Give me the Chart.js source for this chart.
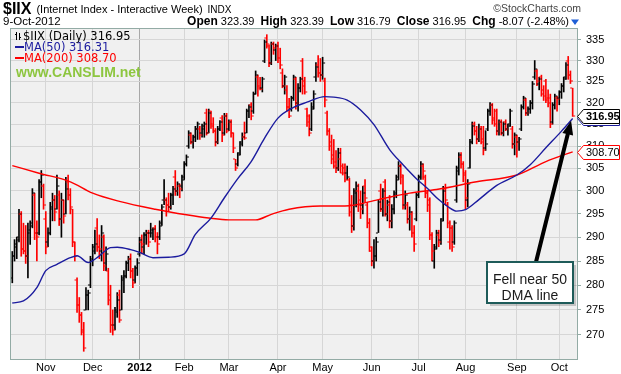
<!DOCTYPE html>
<html>
<head>
<meta charset="utf-8">
<script src="https://cdn.jsdelivr.net/npm/chart.js@4.4.1/dist/chart.umd.min.js"></script>
<style>
  html, body { margin: 0; padding: 0; background: #fff; }
</style>
</head>
<body>
<canvas id="chart" width="621" height="374"></canvas>
<script>
// daily bars, 11-Oct-2011 .. 9-Oct-2012 (index = trading day)
const opens = [
  281.5, 286, 288, 290, 295, 287.5, 287, 286, 291, 293,
  299, 291, 291, 302, 301, 294, 289, 291, 296, 298,
  296, 299, 294, 298, 295, 302, 299, 296, 289, 281,
  276, 274, 271, 275, 278, 280, 285, 288, 292, 288,
  287, 290, 284.5, 283, 278, 272, 272, 275, 278, 275,
  281, 282, 284.5, 285.5, 283, 281, 283.5, 286.5, 289, 288,
  290.5, 291, 291, 291, 292, 290, 290, 293, 298, 298,
  297, 296.5, 299, 303, 300, 301, 301, 303, 306, 310,
  312.5, 311, 312, 314, 314, 313, 314, 317.5, 313, 318,
  315, 313.5, 311, 314, 316.5, 313, 317, 314, 315.5, 313,
  307, 306, 308.5, 311, 312, 313, 318, 319.5, 318, 322,
  326, 324, 323.5, 330, 335.5, 333.5, 329.5, 334, 332.5, 333.5,
  330.5, 327, 324, 323, 319, 318.5, 321, 325.5, 320, 323.5,
  330, 325, 318.5, 317, 314, 319, 326, 329, 327, 326.5,
  325, 317.5, 313.5, 311, 308, 305.5, 305, 307, 304, 305,
  304, 302.5, 297, 292.5, 300, 300, 298, 297, 301, 297,
  293, 287, 285, 286, 291, 300, 296, 302, 295, 297,
  293.5, 296, 299, 303, 305.5, 303, 297, 297, 294, 295,
  291, 294, 299, 303, 305.5, 303, 299.5, 298, 290.5, 285,
  288, 290.5, 289.5, 294, 300.5, 297, 289, 292, 289, 298,
  305, 307.5, 306, 304, 298, 305, 311, 315, 313.5, 311.5,
  314, 311, 309.5, 314, 318, 319.5, 316.5, 318, 313.5, 315.5,
  313, 315.5, 314, 315, 314, 310.5, 312, 311, 314, 319,
  320.5, 317.5, 318.5, 320, 326, 327.5, 324.5, 326, 322, 325,
  320.5, 321, 315.5, 319.5, 321, 321, 322.5, 324, 326, 330,
  326.5, 323.39
];
const highs = [
  287, 289.5, 290, 296, 295.5, 293, 292.5, 293, 293.5, 300.5,
  299.5, 293.5, 302.5, 304.5, 301.5, 295.5, 292, 297.5, 299.5, 299,
  303.5, 300, 299.5, 298, 303, 303.5, 300.5, 296, 289, 281.5,
  277.5, 274.5, 272.5, 279.5, 279, 286, 288.5, 291.5, 294, 290.5,
  292.5, 290.5, 288, 283.5, 280, 275, 275.5, 278.5, 279, 282,
  283, 285, 286, 286.5, 283.5, 284, 285.5, 290, 290.5, 291,
  291.5, 291.5, 293, 292, 292.5, 291, 293.5, 297, 302.5, 298.5,
  299.5, 299.5, 301, 304.5, 302, 301.5, 303.5, 306.5, 308, 313.5,
  313, 312.5, 314.5, 315.5, 314.5, 315, 315.5, 318.5, 318.5, 318,
  316.5, 314, 314.5, 315.8, 317, 317.5, 317.5, 316, 316, 313,
  307, 308.5, 311, 313, 315.5, 318.5, 319.5, 320, 322.5, 327.5,
  326.5, 326, 326, 335, 336.3, 333.8, 334.5, 334.5, 334, 334.5,
  333, 328, 326.5, 324, 321, 321.5, 326.5, 326, 324.5, 326,
  330.5, 326, 318.7, 317.2, 320, 322.8, 329.5, 331.2, 330.5, 330.8,
  325.8, 318, 314, 312.5, 311.5, 309, 309.5, 309.5, 306, 306,
  305.5, 302.8, 299, 300.5, 302, 301.5, 300, 301, 302.5, 297.5,
  294, 288, 289.5, 290, 298, 301.5, 300.5, 302.5, 298, 299,
  297, 300, 303.5, 306.5, 306, 303.5, 300, 297.5, 296.5, 295.5,
  292.5, 299.5, 303.5, 306.5, 306, 303.5, 300, 298.5, 291, 288.5,
  291.5, 291.5, 294, 301, 301.5, 297.5, 293.5, 292.5, 293.5, 305.5,
  308.5, 308.5, 306.5, 304.5, 302.5, 311.5, 315.5, 315.5, 314.5, 315,
  314.5, 314.5, 313.5, 318.5, 320, 319.8, 318.5, 318.5, 316, 316,
  315.5, 316, 315, 318.5, 314.5, 313, 312.5, 312, 319.5, 321.5,
  321, 319, 320.5, 325, 330, 327.8, 326, 326.5, 324, 325.5,
  323, 322, 320, 322, 321.5, 322.8, 324.5, 326, 329.5, 331,
  327.5, 323.39
];
const lows = [
  280.5, 285, 285.5, 289, 286, 286.5, 284.5, 281.5, 288.5, 292,
  289.5, 285, 290.5, 298.5, 296, 286.5, 288, 290.5, 293.5, 293.5,
  296, 292.5, 290, 293, 295, 298, 295, 288, 285, 274.5,
  272.5, 270, 266.8, 275, 275, 279.5, 284, 286.5, 287, 285.5,
  285, 283, 283, 276, 270.5, 270, 271, 273.5, 272.5, 275,
  278.5, 281.5, 283, 281.5, 279.5, 280.5, 282, 286, 286.5, 286.5,
  288.5, 288, 290, 289.5, 289, 286.5, 289.5, 292.5, 297, 294.5,
  295.5, 296, 297, 299, 299, 298.5, 300, 302.5, 305.5, 309.5,
  310.5, 309.5, 311, 311.5, 311.5, 312, 312, 312.5, 313, 314,
  313, 310, 310.5, 313.5, 311, 312.5, 313, 313.5, 312, 308.5,
  304.5, 305.5, 308, 310, 311.5, 313, 316.5, 316, 317.5, 322,
  321.5, 323, 322.5, 329.5, 333, 328.5, 329, 331.5, 330, 329.5,
  328, 323.5, 322, 318, 316.5, 318, 320.5, 318.5, 318, 322.5,
  322, 322, 314.5, 312.3, 313.5, 318.5, 325, 326, 325, 325.5,
  319, 312.5, 309, 306, 305, 304, 304.5, 304, 303.5, 302,
  302.5, 294.5, 291, 291.5, 296.5, 295.5, 294, 295, 297.5, 292,
  287, 284, 283.5, 285, 291, 295.5, 294.5, 294.5, 293.5, 292,
  292, 295, 298.5, 302.5, 301.5, 296, 296, 293, 291.5, 290,
  287, 293.5, 298.5, 302.5, 302.5, 298.5, 295.5, 289.5, 285, 283.5,
  287.5, 288, 288.5, 293.5, 297, 292, 287.5, 287, 288.5, 297.5,
  303.5, 305, 302, 296, 296.5, 305, 310.5, 312.5, 310.5, 311,
  310.5, 308, 309, 313.5, 317, 315, 314.5, 312.5, 312.5, 312.5,
  312.3, 313.5, 312.5, 314.5, 309.5, 308, 307.5, 309, 313.5, 318.5,
  317, 317, 317.5, 318.5, 325.5, 324, 323, 321.5, 320.5, 320,
  319, 314.2, 315, 318.5, 318, 319.5, 321, 322.5, 325.5, 325.5,
  324.5, 316.79
];
const closes = [
  286, 288.5, 289.5, 295, 287.5, 287, 286, 291.5, 292.5, 299.5,
  291, 290, 302, 303.5, 297, 288, 291, 296.5, 298, 295.5,
  301, 294, 298, 294.5, 300.5, 299, 296.5, 289, 286, 276,
  274, 270.5, 267.5, 278, 278.5, 285.5, 287, 288.5, 288, 287.5,
  291, 284, 286.5, 277, 272, 271, 274.5, 277, 273, 281.5,
  282, 284.5, 285.5, 283, 280.5, 283.5, 284.5, 289.5, 288.5, 290.5,
  290.8, 289, 291.5, 291.8, 290, 288.5, 292.5, 296.5, 298, 297,
  296.5, 299, 300.5, 300, 301.5, 300.5, 302.5, 306, 307.5, 313,
  311, 312, 314, 315, 312.5, 314.5, 315, 313, 317.5, 314.5,
  313.5, 311, 314, 315.5, 312.5, 317, 313.5, 315.5, 313, 309.5,
  305, 308, 310.5, 312, 311.8, 318, 319, 317, 322, 326.5,
  323.5, 323.2, 325.5, 334.5, 334, 329.5, 334, 333, 333.5, 330.5,
  329, 324, 326, 319, 317, 321, 326, 320, 323.5, 325.5,
  324, 322.5, 315.5, 313, 318.5, 322, 328.5, 327, 326.5, 329.5,
  320.5, 313.5, 310, 307, 306.5, 305, 308.5, 305.5, 304, 302.5,
  303, 295.5, 292.5, 299.5, 301, 297, 296, 299.5, 298.5, 293,
  288, 285, 286, 289, 297.5, 296, 300, 295, 297.5, 293.5,
  296, 299.5, 302.5, 305.5, 303.5, 296.5, 299, 294, 295.5, 291,
  288.5, 299, 303, 306, 304.5, 299.5, 297, 290.5, 287, 287.5,
  291, 289, 293.5, 300, 298, 293, 292, 288, 293, 304.5,
  308, 306, 303.5, 298.5, 301.5, 311, 314.5, 313.5, 311.5, 314,
  311.5, 309, 310.5, 318, 319.5, 316, 315, 313.5, 315.5, 313,
  315, 314, 314.5, 318, 310.5, 312.5, 311, 311.5, 319, 321,
  317.5, 318.5, 320, 324.5, 328, 325, 325.5, 323, 321.5, 321,
  320, 315, 319.5, 321.5, 320.8, 322.5, 324, 325.5, 329, 326.5,
  325.02, 316.95
];

// moving averages at these trading-day indexes
const ma50Idx = [0, 5, 11, 15, 20, 26, 29, 34, 38, 44, 47, 53, 57, 63, 70, 77, 82, 89, 95, 101, 107, 113, 119, 126, 132, 140, 144, 150, 156, 162, 169, 175, 181, 186, 191, 195, 199, 203, 209, 217, 226, 232, 239, 246, 251];
const ma50Val = [276.4, 276.8, 279.5, 283, 284.3, 285.7, 286.1, 284.7, 285.7, 287.8, 287.9, 287.4, 286.8, 285.7, 285.8, 286.5, 290.6, 294.1, 298.5, 302.7, 306.5, 311.8, 316.4, 318.9, 320.1, 321.4, 321.3, 320.6, 318.3, 314.9, 309.2, 305.8, 302.7, 300.5, 298.1, 296.6, 295.6, 295.9, 298.1, 301.2, 303.5, 305.8, 309.6, 313.4, 316.31];
const ma200Idx = [0, 12, 26, 36, 48, 64, 78, 88, 97, 109, 116, 124, 138, 149, 164, 178, 190, 208, 226, 239, 251];
const ma200Val = [305.6, 303.9, 302.0, 299.5, 297.7, 296.0, 294.8, 294.1, 293.7, 293.7, 294.9, 296.0, 296.7, 296.7, 298.1, 299.5, 300.3, 302.0, 303.5, 306.5, 308.70];

const monthIdx = [15, 36, 57, 77, 97, 119, 139, 161, 182, 203, 226, 245];
const monthLabels = ['Nov', 'Dec', '2012', 'Feb', 'Mar', 'Apr', 'May', 'Jun', 'Jul', 'Aug', 'Sep', 'Oct'];
const yTicks = [270, 275, 280, 285, 290, 295, 300, 305, 310, 315, 320, 325, 330, 335];

const SANS = '"Liberation Sans", Arial, sans-serif';
const VERD = '"DejaVu Sans", Verdana, sans-serif';
const RED = '#ff0000';
const NAVY = '#1b1b9e';
const YEAR_IDX = 57;

const last = closes.length - 1;
const barColors = closes.map((c, i) => (i === 0 || c >= closes[i - 1]) ? '#000000' : RED);

// open (left) and close (right) ticks on each bar
const ohlcTicks = {
  id: 'ohlcTicks',
  afterDatasetDraw(chart, args) {
    if (args.index !== 0) return;
    const { ctx, chartArea: a, scales: { x, y } } = chart;
    ctx.save();
    ctx.beginPath();
    ctx.rect(a.left, a.top, a.right - a.left, a.bottom - a.top);
    ctx.clip();
    closes.forEach((c, i) => {
      const px = x.getPixelForValue(i);
      ctx.fillStyle = barColors[i];
      ctx.fillRect(px - 2.5, Math.round(y.getPixelForValue(opens[i])) - 0.5, 2, 1);
      ctx.fillRect(px + 0.5, Math.round(y.getPixelForValue(c)) - 0.5, 2, 1);
    });
    ctx.restore();
  }
};

function priceTag(ctx, left, y, text, border, bold) {
  ctx.beginPath();
  ctx.moveTo(left + 0.5, y);
  ctx.lineTo(left + 6.5, y - 7);
  ctx.lineTo(619.5, y - 7);
  ctx.lineTo(619.5, y + 7);
  ctx.lineTo(left + 6.5, y + 7);
  ctx.closePath();
  ctx.fillStyle = '#ffffff';
  ctx.fill();
  ctx.lineWidth = 1;
  ctx.strokeStyle = border;
  ctx.stroke();
  ctx.fillStyle = '#000000';
  ctx.font = (bold ? 'bold ' : '') + '11px ' + SANS;
  ctx.textAlign = 'left';
  ctx.textBaseline = 'middle';
  ctx.fillText(text, left + 9, y + 0.5);
}

const frame = {
  id: 'frame',
  beforeDraw(chart) {
    const { ctx, chartArea: a } = chart;
    ctx.save();
    ctx.fillStyle = '#ffffff';
    ctx.fillRect(0, 0, chart.width, chart.height);
    ctx.fillStyle = '#f0f0f0';
    ctx.fillRect(a.left, a.top, a.right - a.left, a.bottom - a.top);
    ctx.restore();
  },
  afterDraw(chart) {
    const { ctx, chartArea: a, scales: { x, y } } = chart;
    ctx.save();

    // plot frame
    ctx.strokeStyle = '#93aba5';
    ctx.lineWidth = 1;
    ctx.strokeRect(a.left - 0.5, a.top - 0.5, a.right - a.left + 1, a.bottom - a.top + 1);

    // header
    ctx.textBaseline = 'alphabetic';
    ctx.textAlign = 'left';
    ctx.fillStyle = '#000000';
    ctx.font = 'bold 16px ' + SANS;
    ctx.fillText('$IIX', 3, 14);
    let hx = 3 + ctx.measureText('$IIX').width + 5;
    ctx.font = '11px ' + SANS;
    ctx.fillText('(Internet Index - Interactive Week)', hx, 13);
    hx += ctx.measureText('(Internet Index - Interactive Week)').width + 5;
    ctx.font = '10px ' + SANS;
    ctx.fillText('INDX', hx, 13);
    ctx.font = '11.5px ' + SANS;
    ctx.fillText('9-Oct-2012', 3, 25);

    ctx.fillStyle = '#444444';
    ctx.font = '10.5px ' + SANS;
    ctx.textAlign = 'right';
    ctx.fillText('\u00A9StockCharts.com', 581, 12);

    const chg = closes[last] - closes[last - 1];
    const pct = chg / closes[last - 1] * 100;
    const parts = [
      ['Open', true], [' ' + opens[last].toFixed(2) + '  ', false],
      ['High', true], [' ' + highs[last].toFixed(2) + '  ', false],
      ['Low', true], [' ' + lows[last].toFixed(2) + '  ', false],
      ['Close', true], [' ' + closes[last].toFixed(2) + '  ', false],
      ['Chg', true], [' ' + chg.toFixed(2) + ' (' + pct.toFixed(2) + '%)', false]
    ];
    const fontFor = b => (b ? 'bold 12px ' : '11px ') + SANS;
    let total = 0;
    parts.forEach(([t, b]) => { ctx.font = fontFor(b); total += ctx.measureText(t).width; });
    let px = 569 - total;
    ctx.textAlign = 'left';
    ctx.fillStyle = '#000000';
    parts.forEach(([t, b]) => {
      ctx.font = fontFor(b);
      ctx.fillText(t, px, 25);
      px += ctx.measureText(t).width;
    });
    ctx.fillStyle = '#1f5fd6';
    ctx.beginPath();
    ctx.moveTo(571, 19.5);
    ctx.lineTo(579, 19.5);
    ctx.lineTo(575, 25);
    ctx.closePath();
    ctx.fill();

    // legend inside plot
    ctx.strokeStyle = '#000000';
    ctx.lineWidth = 1;
    ctx.beginPath();
    ctx.moveTo(16.5, 32); ctx.lineTo(16.5, 40);
    ctx.moveTo(15, 34.5); ctx.lineTo(16.5, 34.5);
    ctx.moveTo(19.5, 33); ctx.lineTo(19.5, 40);
    ctx.moveTo(19.5, 37.5); ctx.lineTo(21, 37.5);
    ctx.stroke();
    ctx.font = '11.5px ' + VERD;
    ctx.fillStyle = '#000000';
    ctx.fillText('$IIX (Daily) ' + closes[last].toFixed(2), 23, 40);
    ctx.fillStyle = NAVY;
    ctx.fillRect(15, 46, 9, 2);
    ctx.fillText('MA(50) ' + ma50Val[ma50Val.length - 1].toFixed(2), 24, 51);
    ctx.fillStyle = RED;
    ctx.fillRect(15, 57, 9, 2);
    ctx.fillText('MA(200) ' + ma200Val[ma200Val.length - 1].toFixed(2), 24, 62);
    ctx.fillStyle = '#8dc63f';
    ctx.font = 'bold 14px ' + SANS;
    ctx.fillText('www.CANSLIM.net', 16, 77);

    // right-axis price tags
    const tagLeft = a.right;
    priceTag(ctx, tagLeft, Math.round(y.getPixelForValue(ma50Val[ma50Val.length - 1])) + 0.5,
      ma50Val[ma50Val.length - 1].toFixed(2), NAVY, false);
    priceTag(ctx, tagLeft, Math.round(y.getPixelForValue(closes[last])) + 0.5,
      closes[last].toFixed(2), '#000000', true);
    priceTag(ctx, tagLeft, Math.round(y.getPixelForValue(ma200Val[ma200Val.length - 1])) + 0.5,
      ma200Val[ma200Val.length - 1].toFixed(2), RED, false);

    // annotation
    const bx = 487, by = 262, bw = 86, bh = 41;
    const tipX = x.getPixelForValue(250.3), tipY = y.getPixelForValue(315.8);
    const sx = 536, sy = by;
    const dx = tipX - sx, dy = tipY - sy, len = Math.hypot(dx, dy);
    const ux = dx / len, uy = dy / len;
    const baseX = tipX - ux * 14, baseY = tipY - uy * 14;
    ctx.strokeStyle = '#000000';
    ctx.lineWidth = 4;
    ctx.lineCap = 'round';
    ctx.beginPath();
    ctx.moveTo(sx, sy);
    ctx.lineTo(baseX, baseY);
    ctx.stroke();
    ctx.fillStyle = '#000000';
    ctx.beginPath();
    ctx.moveTo(tipX, tipY);
    ctx.lineTo(baseX - uy * 5.5, baseY + ux * 5.5);
    ctx.lineTo(baseX + uy * 5.5, baseY - ux * 5.5);
    ctx.closePath();
    ctx.fill();

    ctx.fillStyle = 'rgba(0,0,0,0.18)';
    ctx.fillRect(bx + 3, by + 3, bw, bh);
    ctx.fillStyle = '#ffffff';
    ctx.fillRect(bx, by, bw, bh);
    ctx.strokeStyle = '#1e5b59';
    ctx.lineWidth = 2;
    ctx.strokeRect(bx, by, bw, bh);
    ctx.fillStyle = '#1a1a1a';
    ctx.font = '14px ' + SANS;
    ctx.textAlign = 'center';
    ctx.fillText('Fell near 50', bx + bw / 2, by + 18.5);
    ctx.fillText('DMA line', bx + bw / 2, by + 34.5);

    ctx.restore();
  }
};

new Chart(document.getElementById('chart'), {
  type: 'bar',
  data: {
    datasets: [
      {
        type: 'bar',
        data: closes.map((c, i) => ({ x: i, y: [lows[i], highs[i]] })),
        backgroundColor: barColors,
        borderWidth: 0,
        barThickness: 1,
        order: 2
      },
      {
        type: 'line',
        data: ma50Idx.map((v, i) => ({ x: v, y: ma50Val[i] })),
        borderColor: NAVY,
        borderWidth: 1.4,
        pointRadius: 0,
        cubicInterpolationMode: 'monotone',
        order: 1
      },
      {
        type: 'line',
        data: ma200Idx.map((v, i) => ({ x: v, y: ma200Val[i] })),
        borderColor: RED,
        borderWidth: 1.4,
        pointRadius: 0,
        cubicInterpolationMode: 'monotone',
        order: 1
      }
    ]
  },
  options: {
    responsive: false,
    devicePixelRatio: 1,
    animation: false,
    events: [],
    layout: { padding: { left: 11, top: 29, right: 0, bottom: 0 } },
    plugins: { legend: { display: false }, tooltip: { enabled: false } },
    scales: {
      x: {
        type: 'linear',
        offset: false,
        min: -0.58,
        max: 252.94,
        afterBuildTicks: s => { s.ticks = monthIdx.map(v => ({ value: v })); },
        afterFit: s => { s.height = 15; },
        border: { display: false },
        grid: {
          offset: false,
          drawTicks: false,
          color: c => (c.tick && c.tick.value === YEAR_IDX) ? '#a8a8a8' : '#d6d6d6'
        },
        ticks: {
          autoSkip: false,
          maxRotation: 0,
          minRotation: 0,
          padding: 2,
          color: '#000000',
          font: c => ({ family: SANS, size: 11, weight: (c.tick && c.tick.value === YEAR_IDX) ? 'bold' : 'normal' }),
          callback: v => monthLabels[monthIdx.indexOf(v)] ?? ''
        }
      },
      y: {
        type: 'logarithmic',
        position: 'right',
        min: 265.3,
        max: 337.7,
        afterBuildTicks: s => { s.ticks = yTicks.map(v => ({ value: v })); },
        afterFit: s => { s.width = 44; },
        border: { display: false },
        grid: { color: '#d6d6d6', tickLength: 4, tickColor: '#93aba5' },
        ticks: {
          padding: 5,
          color: '#000000',
          font: { family: SANS, size: 11 },
          callback: v => String(v)
        }
      }
    }
  },
  plugins: [ohlcTicks, frame]
});
</script>
</body>
</html>
